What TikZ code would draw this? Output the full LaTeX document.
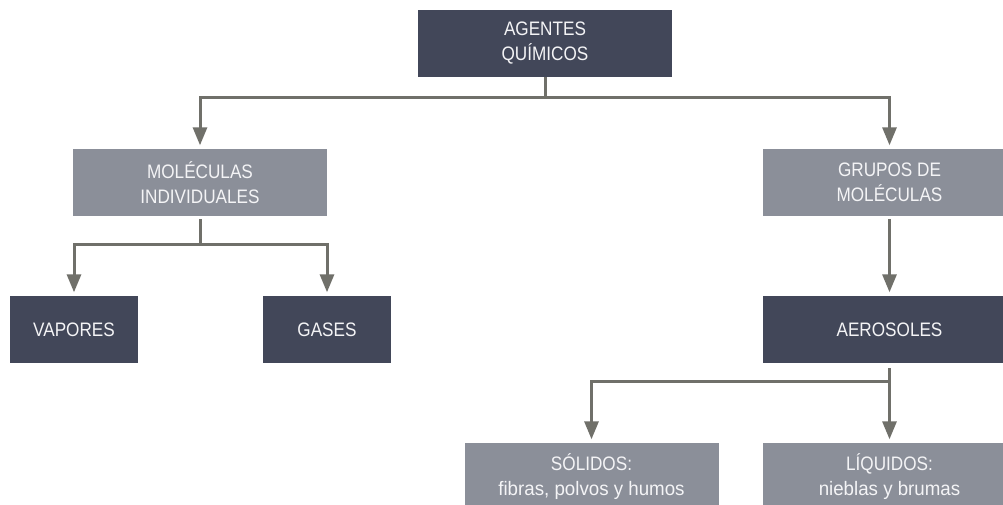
\documentclass[tikz,border=0pt]{standalone}
\usepackage{fontspec}
\setmainfont{Liberation Sans}
\newfontfamily\capsfont[FakeStretch=0.88]{Liberation Sans}
\newfontfamily\lowfont[FakeStretch=0.96]{Liberation Sans}
\usetikzlibrary{arrows.meta}
\definecolor{darkbox}{RGB}{66,71,89}
\definecolor{greybox}{RGB}{139,143,153}
\definecolor{linecol}{RGB}{112,112,106}
\definecolor{txtcol}{RGB}{244,244,246}
\tikzset{
  boxbase/.style={rectangle, inner sep=0pt, minimum width=254pt, minimum height=67pt,
    align=center, text=txtcol, font=\capsfont\fontsize{19.5}{25}\selectfont},
  darknode/.style={boxbase, fill=darkbox},
  greynode/.style={boxbase, fill=greybox},
  narrownode/.style={darknode, minimum width=128pt},
  conn/.style={draw=linecol, line width=3pt, line join=miter},
  arr/.style={conn, -{Triangle[width=14pt,length=18pt]}, shorten >=3.5pt}
}
\begin{document}
\begin{tikzpicture}[x=1pt,y=-1pt]
\useasboundingbox (0,0) rectangle (1003,504);
\clip (0,0) rectangle (1003,504);
\fill[white] (0,0) rectangle (1003,504);

\node[darknode] (agentes) at (545,43.5) {AGENTES\\QUÍMICOS};
\node[greynode] (molec) at (200,182.5) {MOLÉCULAS\\INDIVIDUALES};
\node[greynode] (grupos) at (889.5,182.5) {GRUPOS DE\\MOLÉCULAS};
\node[narrownode] (vapores) at (74,329.5) {VAPORES};
\node[narrownode] (gases) at (327,329.5) {GASES};
\node[darknode] (aeros) at (889.5,329.5) {AEROSOLES};
\node[greynode] (solidos) at (591.5,476.5) {SÓLIDOS:\\{\lowfont fibras, polvos y humos}};
\node[greynode] (liquidos) at (889.5,476.5) {LÍQUIDOS:\\{\lowfont nieblas y brumas}};

\coordinate (j1) at (545,97);
\coordinate (j1l) at (200,97);
\coordinate (j1r) at (889.5,97);
\coordinate (j2) at (200,244);
\coordinate (j2l) at (74,244);
\coordinate (j2r) at (327,244);
\coordinate (j3) at (889.5,381);
\coordinate (j3l) at (591.5,381);

\draw[conn] (agentes.south) -- (j1);
\draw[arr] (j1) -- (j1l) -- (molec.north);
\draw[arr] (j1) -- (j1r) -- (grupos.north);

\draw[conn] ([yshift=-3pt]molec.south) -- (j2);
\draw[arr] (j2) -- (j2l) -- (vapores.north);
\draw[arr] (j2) -- (j2r) -- (gases.north);

\draw[arr] ([yshift=-3pt]grupos.south) -- (aeros.north);

\draw[arr] ([yshift=-5pt]aeros.south) -- (liquidos.north);
\draw[arr] (j3) -- (j3l) -- (solidos.north);
\end{tikzpicture}
\end{document}
